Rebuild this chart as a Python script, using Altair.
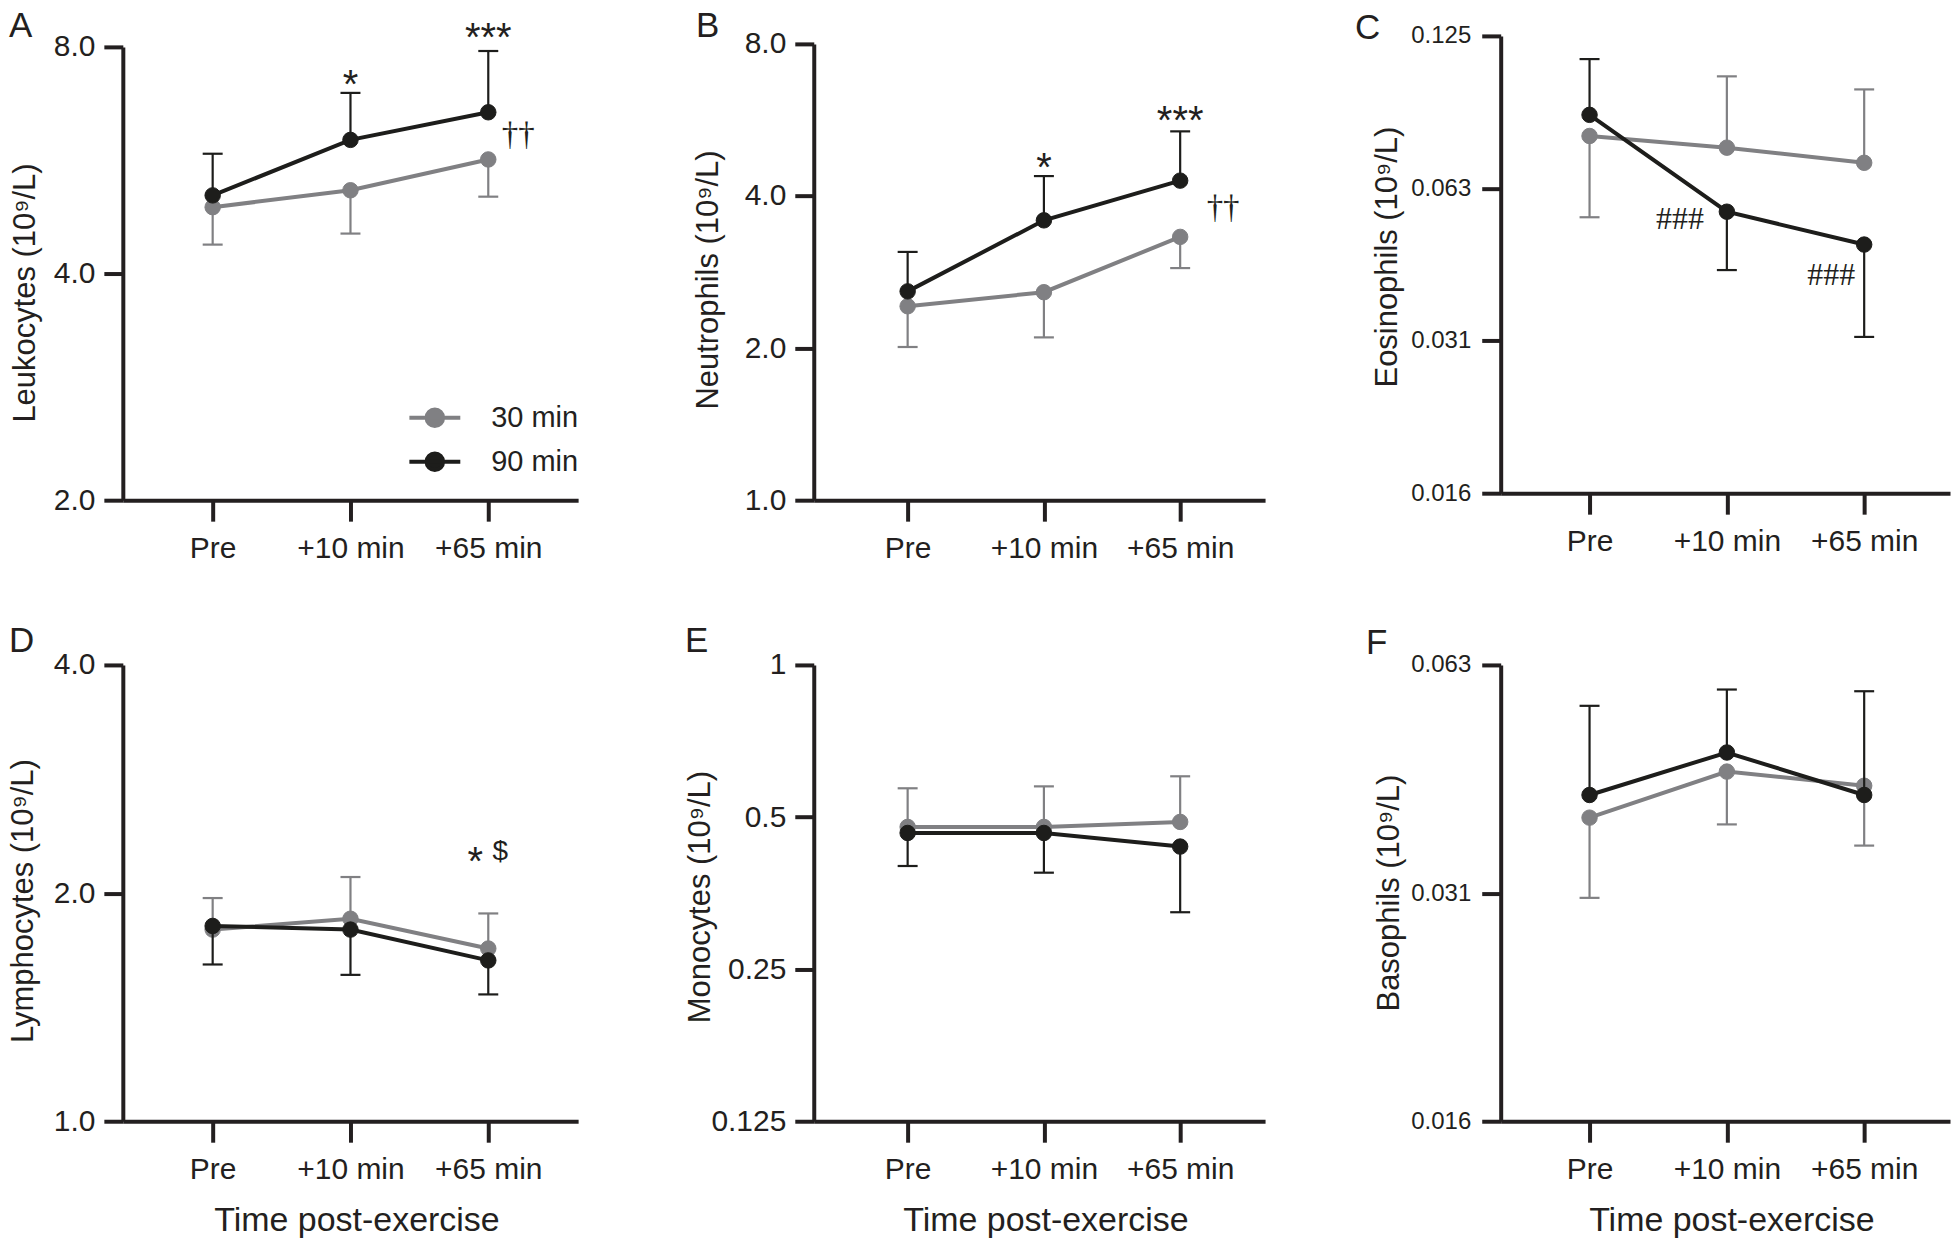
import json
import altair as alt
import pandas as pd

FONT = "Liberation Sans"
SERIF = "Liberation Serif"
INK = "#231f20"
GRAY = "#808083"
BLACK = "#1d1d1b"

timepoints = ["Pre", "+10 min", "+65 min"]
groups = ["30 min", "90 min"]
group_colors = [GRAY, BLACK]
letters = ["A", "B", "C", "D", "E", "F"]
x_title = "Time post-exercise"
y_titles = ["Leukocytes (10⁹/L)", "Neutrophils (10⁹/L)", "Eosinophils (10⁹/L)",
            "Lymphocytes (10⁹/L)", "Monocytes (10⁹/L)", "Basophils (10⁹/L)"]

# A  Leukocytes
leu_30 = [4.90, 5.16, 5.67]
leu_30_err = [4.37, 4.52, 5.06]
leu_90 = [5.08, 6.02, 6.55]
leu_90_err = [5.77, 6.95, 7.90]
# B  Neutrophils
neu_30 = [2.42, 2.58, 3.32]
neu_30_err = [2.01, 2.10, 2.88]
neu_90 = [2.59, 3.58, 4.29]
neu_90_err = [3.10, 4.38, 5.37]
# C  Eosinophils
eos_30 = [0.0793, 0.0752, 0.0702]
eos_30_err = [0.0548, 0.104, 0.098]
eos_90 = [0.0873, 0.0562, 0.0484]
eos_90_err = [0.1125, 0.0431, 0.0318]
# D  Lymphocytes
lym_30 = [1.79, 1.85, 1.69]
lym_30_err = [1.97, 2.10, 1.88]
lym_90 = [1.81, 1.79, 1.63]
lym_90_err = [1.61, 1.56, 1.47]
# E  Monocytes
mon_30 = [0.478, 0.478, 0.489]
mon_30_err = [0.570, 0.575, 0.602]
mon_90 = [0.465, 0.465, 0.437]
mon_90_err = [0.400, 0.388, 0.324]
# F  Basophils
bas_30 = [0.0393, 0.0452, 0.0433]
bas_30_err = [0.0308, 0.0385, 0.0361]
bas_90 = [0.0421, 0.0479, 0.0421]
bas_90_err = [0.0552, 0.0580, 0.0577]

ticks_A = [2, 4, 8]
ticks_B = [1, 2, 4, 8]
ticks_C = [0.015625, 0.03125, 0.0625, 0.125]
ticks_D = [1, 2, 4]
ticks_E = [0.125, 0.25, 0.5, 1]
ticks_F = [0.015625, 0.03125, 0.0625]

# annotations: (text, time index, group, anchor, font, size, baseline, dx, dy)
ann_A = [("*", 1, "90 min", "err", FONT, 40, "alphabetic", 0, 5),
         ("***", 2, "90 min", "err", FONT, 40, "alphabetic", 0, 0),
         ("††", 2, "30 min", "mean", SERIF, 33, "middle", 30, -24)]
ann_B = [("*", 1, "90 min", "err", FONT, 40, "alphabetic", 0, 5),
         ("***", 2, "90 min", "err", FONT, 40, "alphabetic", 0, 3),
         ("††", 2, "30 min", "mean", SERIF, 33, "middle", 43, -29)]
ann_C = [("###", 1, "90 min", "mean", SERIF, 32, "middle", -47, 7),
         ("###", 2, "90 min", "mean", SERIF, 32, "middle", -33, 30)]
ann_D = [("*", 2, "30 min", "err", FONT, 40, "alphabetic", -13, -39),
         ("$", 2, "30 min", "err", FONT, 28, "middle", 12, -62)]
ann_E = []
ann_F = []

LABEL_EXPR = "[" + ",".join(json.dumps(t) for t in timepoints) + "][datum.value]"
COLOR_SCALE = alt.Scale(domain=groups, range=group_colors)
R = 0.325
SYMBOL = (f"M-1,0L1,0M{R},0A{R},{R},0,1,1,-{R},0A{R},{R},0,1,1,{R},0Z")
LEG = alt.Legend(title=None, orient="none", legendX=285, legendY=355,
                 symbolType=SYMBOL, symbolSize=2601, symbolStrokeWidth=4,
                 symbolOpacity=1,
                 labelFontSize=29, labelFont=FONT, labelColor=INK,
                 labelOffset=29, rowPadding=-8, padding=0)


def frame(m30, e30, m90, e90):
    rows = []
    for g, m, e in ((groups[0], m30, e30), (groups[1], m90, e90)):
        for i in range(3):
            rows.append({"t": i, "grp": g, "mean": m[i], "err": e[i]})
    return pd.DataFrame(rows)


def panel(idx, df, ticks, fmt, lab_size, lab_pad, w, h, yrange, xdom,
          title_x, title_y, letter_dx, letter_dy, anns, bottom):
    xs = alt.Scale(domain=xdom, nice=False, zero=False)
    xa = alt.Axis(values=[0, 1, 2], labelExpr=LABEL_EXPR,
                  title=x_title if bottom else None,
                  tickSize=21, labelPadding=12, labelFontSize=30, labelAngle=0,
                  titleFontSize=34, titleFontWeight="normal",
                  titleX=w / 2 + 6, titleY=109, titleBaseline="alphabetic",
                  titleAlign="center")
    yscale_kw = dict(type="log", base=2, domain=[min(ticks), max(ticks)],
                     nice=False, zero=False)
    if yrange is not None:
        yscale_kw["range"] = yrange
    ys = alt.Scale(**yscale_kw)
    ya = alt.Axis(values=ticks, format=fmt, title=y_titles[idx],
                  tickSize=19, labelPadding=lab_pad, labelFontSize=lab_size,
                  titleFontSize=31, titleFontWeight="normal",
                  titleAngle=270, titleX=title_x, titleY=title_y,
                  titleAlign="center", titleBaseline="middle")
    X = alt.X("t:Q", scale=xs, axis=xa)

    layers = []
    for g, c in zip(groups, group_colors):
        base = alt.Chart(df).transform_filter(alt.datum.grp == g)
        layers.append(base.mark_rule(strokeWidth=2.2, color=c).encode(
            x=X, y=alt.Y("mean:Q", scale=ys, axis=ya), y2="err:Q"))
        layers.append(base.mark_tick(orient="horizontal", size=20, thickness=2.2,
                                     color=c, opacity=1).encode(
            x=X, y=alt.Y("err:Q", scale=ys, axis=ya)))
        layers.append(base.mark_line(strokeWidth=4, color=c).encode(
            x=X, y=alt.Y("mean:Q", scale=ys, axis=ya)))
        layers.append(base.mark_point(filled=True, size=240, opacity=1, strokeWidth=1).encode(
            x=X, y=alt.Y("mean:Q", scale=ys, axis=ya),
            fill=alt.Fill("grp:N", scale=COLOR_SCALE, legend=LEG),
            stroke=alt.Stroke("grp:N", scale=COLOR_SCALE, legend=LEG)))
    for (txt, t, g, anchor, font, size, bl, dx, dy) in anns:
        val = df[(df.t == t) & (df.grp == g)][anchor].iloc[0]
        adf = pd.DataFrame([{"t": t, "y": val, "label": txt}])
        layers.append(alt.Chart(adf).mark_text(
            font=font, fontSize=size, baseline=bl, align="center",
            dx=dx, dy=dy, color=INK).encode(
            x=X, y=alt.Y("y:Q", scale=ys, axis=ya), text="label:N"))
    return alt.layer(*layers).properties(
        width=w, height=h,
        title=alt.TitleParams(text=letters[idx], anchor="start", frame="group",
                              fontSize=35, font=FONT, fontWeight="normal",
                              color=INK, dx=letter_dx, dy=letter_dy, offset=0,
                              baseline="alphabetic"))


pA = panel(0, frame(leu_30, leu_30_err, leu_90, leu_90_err), ticks_A, ".1f", 30, 9,
           456, 465, [465, 11], [-0.652, 2.652], -97, 257, -114, 53, ann_A, False)
pB = panel(1, frame(neu_30, neu_30_err, neu_90, neu_90_err), ticks_B, ".1f", 30, 9,
           452, 465, [465, 8], [-0.689, 2.623], -105, 244, -118, 43, ann_B, False)
pC = panel(2, frame(eos_30, eos_30_err, eos_90, eos_90_err), ticks_C, ".3f", 24, 11,
           450, 458, [458, 0], [-0.647, 2.625], -113, 221, -146, 50, ann_C, False)
pD = panel(3, frame(lym_30, lym_30_err, lym_90, lym_90_err), ticks_D, ".1f", 30, 9,
           456, 457, None, [-0.652, 2.652], -99, 236, -114, 37, ann_D, True)
pE = panel(4, frame(mon_30, mon_30_err, mon_90, mon_90_err), ticks_E, "~g", 30, 9,
           452, 457, None, [-0.689, 2.623], -113, 232, -129, 37, ann_E, True)
pF = panel(5, frame(bas_30, bas_30_err, bas_90, bas_90_err), ticks_F, ".3f", 24, 11,
           450, 457, None, [-0.647, 2.625], -111, 228, -135, 36, ann_F, True)

chart = alt.concat(pA, pB, pC, pD, pE, pF, columns=3,
                   spacing={"row": 165, "column": 236}, bounds="flush").properties(
    padding={"left": 0, "top": 0, "right": 2, "bottom": 0},
    background="white",
).configure_view(stroke=None).configure_axis(
    grid=False, domainColor=INK, domainWidth=4, tickColor=INK, tickWidth=4,
    labelFont=FONT, titleFont=FONT, labelColor=INK, titleColor=INK,
    labelFlush=False, labelOverlap=False, labelBound=False,
).configure_title(font=FONT)

chart.save("out.html", embed_options={"renderer": "svg", "actions": False})
